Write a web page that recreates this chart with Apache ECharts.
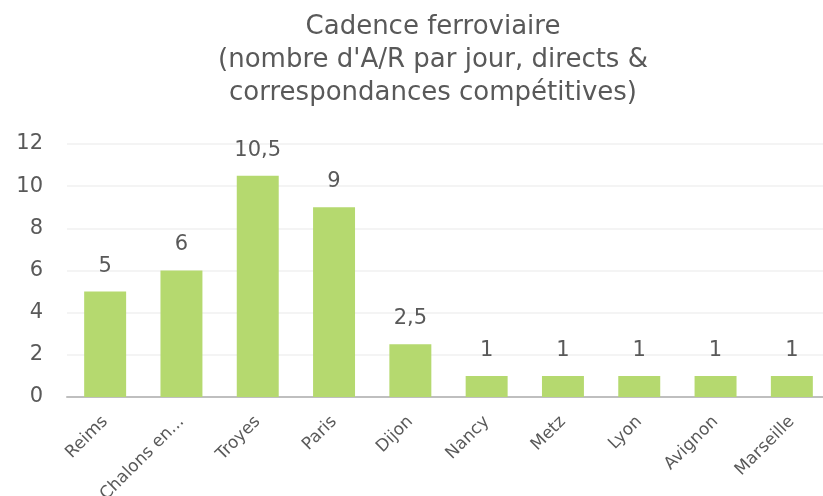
<!DOCTYPE html>
<html>
<head>
<meta charset="utf-8">
<script src="https://cdn.jsdelivr.net/npm/echarts@6/dist/echarts.min.js"></script>
<style>
  html, body { margin: 0; padding: 0; background: #ffffff; }
  #chart { width: 823px; height: 496px; }
</style>
</head>
<body>
<div id="chart"></div>
<script>
// Destinations served and daily round trips (direct + competitive connections)
const cities = ['Reims', 'Chalons en Champagne', 'Troyes', 'Paris', 'Dijon', 'Nancy', 'Metz', 'Lyon', 'Avignon', 'Marseille'];
const roundTrips = [5, 6, 10.5, 9, 2.5, 1, 1, 1, 1, 1];
const yTicks = [0, 2, 4, 6, 8, 10, 12];

const FONT = '"DejaVu Sans", "Open Sans", sans-serif';
const TEXT = '#595959';

const chart = echarts.init(document.getElementById('chart'));
chart.setOption({
  animation: false,
  title: {
    text: "Cadence ferroviaire\n(nombre d'A/R par jour, directs &\ncorrespondances compétitives)",
    left: 428,
    textAlign: 'center',
    top: 6,
    textStyle: { fontFamily: FONT, fontSize: 26, fontWeight: 'normal', color: TEXT, lineHeight: 33 }
  },
  // the plot runs slightly past the right edge of the canvas
  grid: { left: 67, width: 763, top: 144, bottom: 99, outerBoundsMode: 'none', containLabel: false },
  xAxis: {
    type: 'category',
    data: cities,
    axisTick: { show: false },
    axisLine: { lineStyle: { color: '#bfbfbf', width: 2 } },
    axisLabel: {
      rotate: 45,
      interval: 0,
      margin: 22,
      fontFamily: FONT,
      fontSize: 17,
      color: TEXT,
      width: 116,
      overflow: 'truncate',
      ellipsis: '...'
    }
  },
  yAxis: {
    type: 'value',
    min: yTicks[0],
    max: yTicks[yTicks.length - 1],
    interval: 2,
    axisLine: { show: false },
    axisTick: { show: false },
    splitLine: { lineStyle: { color: '#f0f0f0', width: 1.5 } },
    axisLabel: { fontFamily: FONT, fontSize: 21, color: TEXT, margin: 24 }
  },
  series: [{
    type: 'bar',
    data: roundTrips,
    barWidth: '55%',
    itemStyle: { color: '#b5d96f' },
    label: {
      show: true,
      position: 'top',
      distance: 15,
      fontFamily: FONT,
      fontSize: 21,
      color: TEXT,
      formatter: p => String(p.value).replace('.', ',')
    }
  }]
});
</script>
</body>
</html>
